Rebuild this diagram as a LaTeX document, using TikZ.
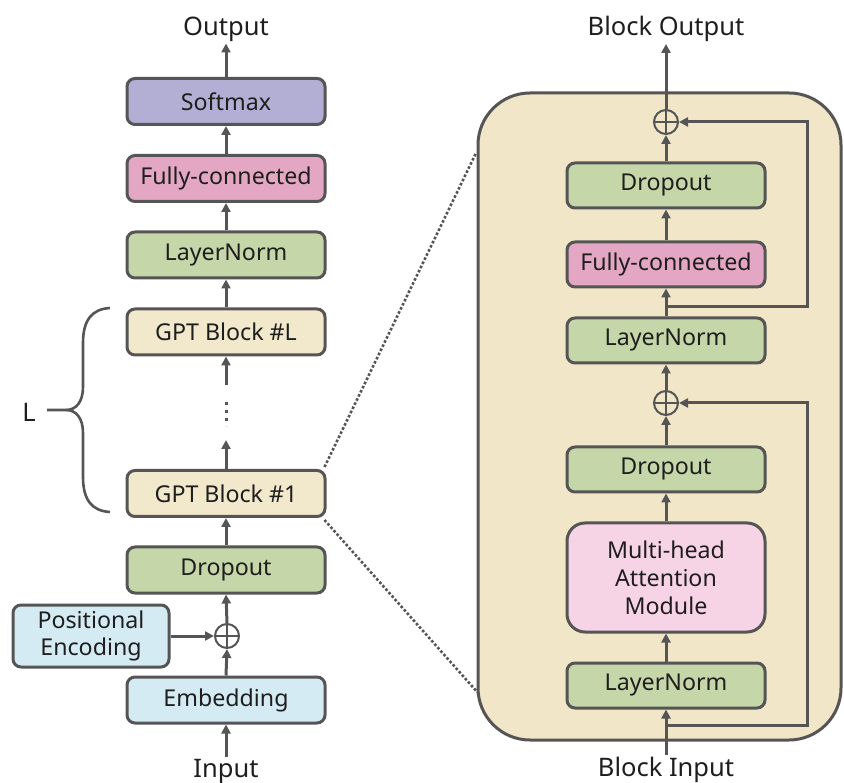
\documentclass[tikz,border=0pt]{standalone}
\usepackage{fontspec}
\setmainfont{Noto Sans}
\usetikzlibrary{arrows.meta}
\definecolor{edge}{HTML}{555555}
\definecolor{txt}{HTML}{1E1E1E}
\definecolor{cSoft}{HTML}{B3AED4}
\definecolor{cFC}{HTML}{E3A7C3}
\definecolor{cGreen}{HTML}{C5D6A8}
\definecolor{cGPT}{HTML}{F2E8CB}
\definecolor{cBlue}{HTML}{D5EBF3}
\definecolor{cMHA}{HTML}{F7D3E6}
\definecolor{cBig}{HTML}{F1E6C8}
\tikzset{
  box/.style={draw=edge, line width=3pt, rounded corners=8pt, text=txt,
    minimum width=198pt, minimum height=46pt, inner sep=0pt, align=center,
    font=\fontsize{23.2}{28}\selectfont},
  lbl/.style={text=txt, inner sep=2pt, font=\fontsize{25.5}{30}\selectfont},
  plusnode/.style={circle, draw=edge, line width=2pt, minimum size=24pt, inner sep=0pt,
    path picture={\draw[edge, line width=2pt]
      (path picture bounding box.north) -- (path picture bounding box.south)
      (path picture bounding box.west) -- (path picture bounding box.east);}},
  arr/.style={draw=edge, line width=3pt, -{Triangle[length=9pt,width=9pt]}},
  ln/.style={draw=edge, line width=3pt},
  dots/.style={draw=edge, line width=2.6pt, dotted},
}
\begin{document}
\begin{tikzpicture}[x=1pt, y=-1pt]
\useasboundingbox (0,0) rectangle (844,783);
% big block
\draw[draw=edge, fill=cBig, line width=3pt, rounded corners=52pt] (478,93) rectangle (841,740);

% left column
\node[box, fill=cSoft] (soft) at (226,101.5) {Softmax};
\node[box, fill=cFC] (fc) at (226,178.5) {Fully-connected};
\node[box, fill=cGreen] (lnL) at (226,255) {LayerNorm};
\node[box, fill=cGPT] (gptL) at (226,332) {GPT Block \#L};
\node[box, fill=cGPT] (gpt1) at (226,493.5) {GPT Block \#1};
\node[box, fill=cGreen] (dropL) at (226,570) {Dropout};
\node[box, fill=cBlue] (emb) at (226,700) {Embedding};
\node[box, fill=cBlue, minimum width=156pt, minimum height=62pt,
  font=\fontsize{23.2}{27}\selectfont] (pe) at (91,636) {Positional\\Encoding};
\node[plusnode] (addL) at (227,636) {};
\node[lbl] (out) at (226,29) {Output};
\node[lbl] (in) at (226,771) {Input};
\node[lbl] (Lt) at (29,412) {L};

\draw[arr] (in.north) -- (emb.south);
\draw[arr] (emb.north) -- (addL.south);
\draw[arr] (pe.east) -- (addL.west);
\draw[arr] (addL.north) -- (dropL.south);
\draw[arr] (dropL.north) -- (gpt1.south);
\coordinate (d1) at (226,440);
\coordinate (d2) at (226,385);
\draw[arr] (gpt1.north) -- (d1);
\draw[arr] (d2) -- (gptL.south);
\draw[edge, line width=3pt, dash pattern=on 3pt off 5pt] (226,402) -- (226,426);
\draw[arr] (gptL.north) -- (lnL.south);
\draw[arr] (lnL.north) -- (fc.south);
\draw[arr] (fc.north) -- (soft.south);
\draw[arr] (soft.north) -- (out.south);

% brace
\draw[ln, line width=2.6pt] (47,410) -- (66,410) .. controls (76,410) and (83,402) .. (83,387) -- (83,343)
  .. controls (83,320) and (92,309) .. (110,308);
\draw[ln, line width=2.6pt] (66,410) .. controls (76,410) and (83,418) .. (83,433) -- (83,477)
  .. controls (83,500) and (92,511) .. (110,512);

% zoom lines
\coordinate (zt) at (476,153);
\coordinate (zb) at (479,694);
\draw[dots] (gpt1.north east) ++(-2,-2) -- (zt);
\draw[dots] (gpt1.south east) ++(-2,2) -- (zb);

% right column
\node[plusnode] (addT) at (666,122) {};
\node[box, fill=cGreen, minimum height=45pt] (dropA) at (666,185.5) {Dropout};
\node[box, fill=cFC, minimum height=45pt] (fcR) at (666,264.5) {Fully-connected};
\node[box, fill=cGreen, minimum height=45pt] (lnA) at (666,340.5) {LayerNorm};
\node[plusnode] (addB) at (666,403) {};
\node[box, fill=cGreen, minimum height=45pt] (dropB) at (666,469.5) {Dropout};
\node[box, fill=cMHA, minimum height=109pt, rounded corners=18pt] (mha) at (666,577.5) {Multi-head\\Attention\\Module};
\node[box, fill=cGreen, minimum height=45pt] (lnB) at (666,685.5) {LayerNorm};
\node[lbl] (bout) at (666,29) {Block Output};
\node[lbl] (bin) at (666,770) {Block Input};

\coordinate (brB) at (666,725);
\coordinate (brA) at (666,307);
\draw[arr] (bin.north) -- (lnB.south);
\draw[arr] (lnB.north) -- (mha.south);
\draw[arr] (mha.north) -- (dropB.south);
\draw[arr] (dropB.north) -- (addB.south);
\draw[arr] (addB.north) -- (lnA.south);
\draw[arr] (lnA.north) -- (fcR.south);
\draw[arr] (fcR.north) -- (dropA.south);
\draw[arr] (dropA.north) -- (addT.south);
\draw[arr] (addT.north) -- (bout.south);
\draw[arr] (brB) -| (807,403) -- (addB.east);
\draw[arr] (brA) -| (807,122) -- (addT.east);
\end{tikzpicture}
\end{document}
